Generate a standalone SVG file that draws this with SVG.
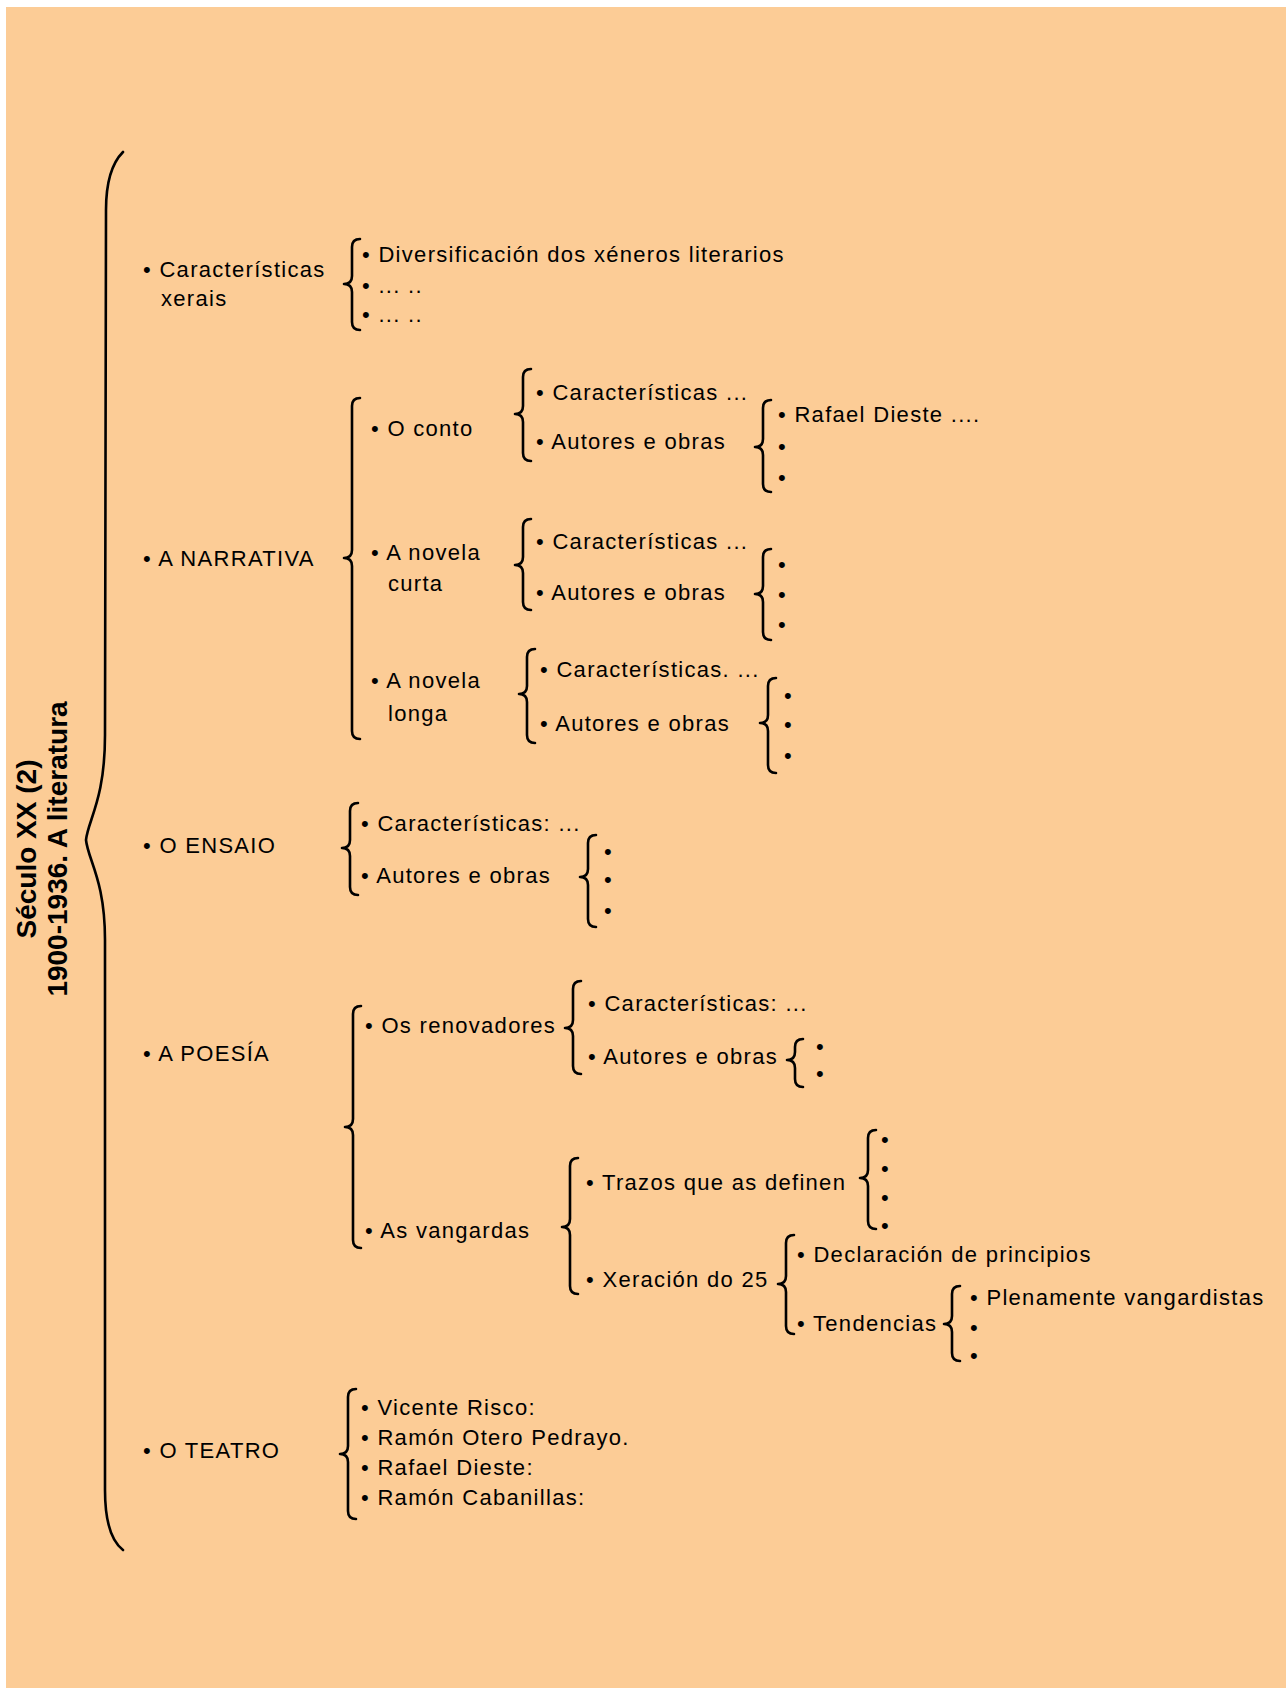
<svg xmlns="http://www.w3.org/2000/svg" width="1286" height="1688" viewBox="0 0 1286 1688">
<defs>
<style>
.t{font-family:"Liberation Sans",Arial,sans-serif;font-size:22px;letter-spacing:1.3px;fill:#000}
.title{font-family:"Liberation Sans",Arial,sans-serif;font-size:28px;font-weight:bold;fill:#000;text-anchor:middle}
.br{fill:none;stroke:#000;stroke-width:2.6;stroke-linecap:round;stroke-linejoin:round}
</style>
</defs>
<rect x="0" y="0" width="1286" height="1688" fill="#ffffff"/>
<rect x="6" y="7" width="1280" height="1681" fill="#FCCC96"/>
<g id="title">
<text class="title" transform="rotate(-90)" x="-849" y="36">Século XX (2)</text>
<text class="title" transform="rotate(-90)" x="-849" y="67">1900-1936. A literatura</text>
</g>
<g id="connectors">
<path class="br" d="M123,152 C110,165 106,185 106,210 L105,735 C105,800 88,820 86,840 C88,860 105,880 105,940 L105,1490 C105,1520 110,1540 123,1550"/>
<path class="br" d="M360,239 Q352,239 352,247 L352,276 Q352,284 344,284 Q352,284 352,292 L352,322 Q352,330 360,330"/>
<path class="br" d="M360,398 Q352,398 352,406 L352,550 Q352,558 344,558 Q352,558 352,566 L352,731 Q352,739 360,739"/>
<path class="br" d="M531,369 Q523,369 523,377 L523,406 Q523,414 515,414 Q523,414 523,422 L523,453 Q523,461 531,461"/>
<path class="br" d="M771,400 Q763,400 763,408 L763,439 Q763,447 755,447 Q763,447 763,455 L763,484 Q763,492 771,492"/>
<path class="br" d="M531,519 Q523,519 523,527 L523,557 Q523,565 515,565 Q523,565 523,573 L523,602 Q523,610 531,610"/>
<path class="br" d="M771,549 Q763,549 763,557 L763,586 Q763,594 755,594 Q763,594 763,602 L763,632 Q763,640 771,640"/>
<path class="br" d="M535,649 Q527,649 527,657 L527,686 Q527,694 519,694 Q527,694 527,702 L527,735 Q527,743 535,743"/>
<path class="br" d="M776,678 Q768,678 768,686 L768,715 Q768,723 760,723 Q768,723 768,731 L768,765 Q768,773 776,773"/>
<path class="br" d="M358,803 Q350,803 350,811 L350,840 Q350,848 342,848 Q350,848 350,856 L350,887 Q350,895 358,895"/>
<path class="br" d="M596,835 Q588,835 588,843 L588,869 Q588,877 580,877 Q588,877 588,885 L588,919 Q588,927 596,927"/>
<path class="br" d="M361,1006 Q353,1006 353,1014 L353,1119 Q353,1127 345,1127 Q353,1127 353,1135 L353,1240 Q353,1248 361,1248"/>
<path class="br" d="M581,981 Q573,981 573,989 L573,1020 Q573,1028 565,1028 Q573,1028 573,1036 L573,1066 Q573,1074 581,1074"/>
<path class="br" d="M803,1039 Q795,1039 795,1047 L795,1052 Q795,1060 787,1060 Q795,1060 795,1068 L795,1079 Q795,1087 803,1087"/>
<path class="br" d="M578,1158 Q570,1158 570,1166 L570,1219 Q570,1227 562,1227 Q570,1227 570,1235 L570,1286 Q570,1294 578,1294"/>
<path class="br" d="M876,1130 Q868,1130 868,1138 L868,1170 Q868,1178 860,1178 Q868,1178 868,1186 L868,1221 Q868,1229 876,1229"/>
<path class="br" d="M794,1235 Q786,1235 786,1243 L786,1276 Q786,1284 778,1284 Q786,1284 786,1292 L786,1326 Q786,1334 794,1334"/>
<path class="br" d="M960,1286 Q952,1286 952,1294 L952,1316 Q952,1324 944,1324 Q952,1324 952,1332 L952,1353 Q952,1361 960,1361"/>
<path class="br" d="M356,1389 Q348,1389 348,1397 L348,1446 Q348,1454 340,1454 Q348,1454 348,1462 L348,1511 Q348,1519 356,1519"/>
</g>
<g id="caracteristicas-xerais">
<text class="t" x="143" y="277">• Características</text>
<text class="t" x="161" y="306">xerais</text>
<text class="t" x="362" y="262">• Diversificación dos xéneros literarios</text>
<text class="t" x="362" y="293">• ... ..</text>
<text class="t" x="362" y="322">• ... ..</text>
</g>
<g id="narrativa">
<text class="t" x="143" y="566">• A NARRATIVA</text>
<g id="conto">
<text class="t" x="371" y="436">• O conto</text>
<text class="t" x="536" y="400">• Características ...</text>
<text class="t" x="536" y="449">• Autores e obras</text>
<text class="t" x="778" y="422">• Rafael Dieste ....</text>
<text class="t" x="778" y="454">•</text>
<text class="t" x="778" y="485">•</text>
</g>
<g id="novela-curta">
<text class="t" x="371" y="560">• A novela</text>
<text class="t" x="388" y="591">curta</text>
<text class="t" x="536" y="549">• Características ...</text>
<text class="t" x="536" y="600">• Autores e obras</text>
<text class="t" x="778" y="572">•</text>
<text class="t" x="778" y="602">•</text>
<text class="t" x="778" y="632">•</text>
</g>
<g id="novela-longa">
<text class="t" x="371" y="688">• A novela</text>
<text class="t" x="388" y="721">longa</text>
<text class="t" x="540" y="677">• Características. ...</text>
<text class="t" x="540" y="731">• Autores e obras</text>
<text class="t" x="784" y="703">•</text>
<text class="t" x="784" y="732">•</text>
<text class="t" x="784" y="763">•</text>
</g>
</g>
<g id="ensaio">
<text class="t" x="143" y="853">• O ENSAIO</text>
<text class="t" x="361" y="831">• Características: ...</text>
<text class="t" x="361" y="883">• Autores e obras</text>
<text class="t" x="604" y="859">•</text>
<text class="t" x="604" y="887">•</text>
<text class="t" x="604" y="918">•</text>
</g>
<g id="poesia">
<text class="t" x="143" y="1061">• A POESÍA</text>
<g id="renovadores">
<text class="t" x="365" y="1033">• Os renovadores</text>
<text class="t" x="588" y="1011">• Características: ...</text>
<text class="t" x="588" y="1064">• Autores e obras</text>
<text class="t" x="816" y="1054">•</text>
<text class="t" x="816" y="1081">•</text>
</g>
<g id="vangardas">
<text class="t" x="365" y="1238">• As vangardas</text>
<text class="t" x="586" y="1190">• Trazos que as definen</text>
<text class="t" x="881" y="1147">•</text>
<text class="t" x="881" y="1176">•</text>
<text class="t" x="881" y="1205">•</text>
<text class="t" x="881" y="1233">•</text>
<text class="t" x="586" y="1287">• Xeración do 25</text>
<text class="t" x="797" y="1262">• Declaración de principios</text>
<text class="t" x="797" y="1331">• Tendencias</text>
<text class="t" x="970" y="1305">• Plenamente vangardistas</text>
<text class="t" x="970" y="1335">•</text>
<text class="t" x="970" y="1363">•</text>
</g>
</g>
<g id="teatro">
<text class="t" x="143" y="1458">• O TEATRO</text>
<text class="t" x="361" y="1415">• Vicente Risco:</text>
<text class="t" x="361" y="1445">• Ramón Otero Pedrayo.</text>
<text class="t" x="361" y="1475">• Rafael Dieste:</text>
<text class="t" x="361" y="1505">• Ramón Cabanillas:</text>
</g>
</svg>
